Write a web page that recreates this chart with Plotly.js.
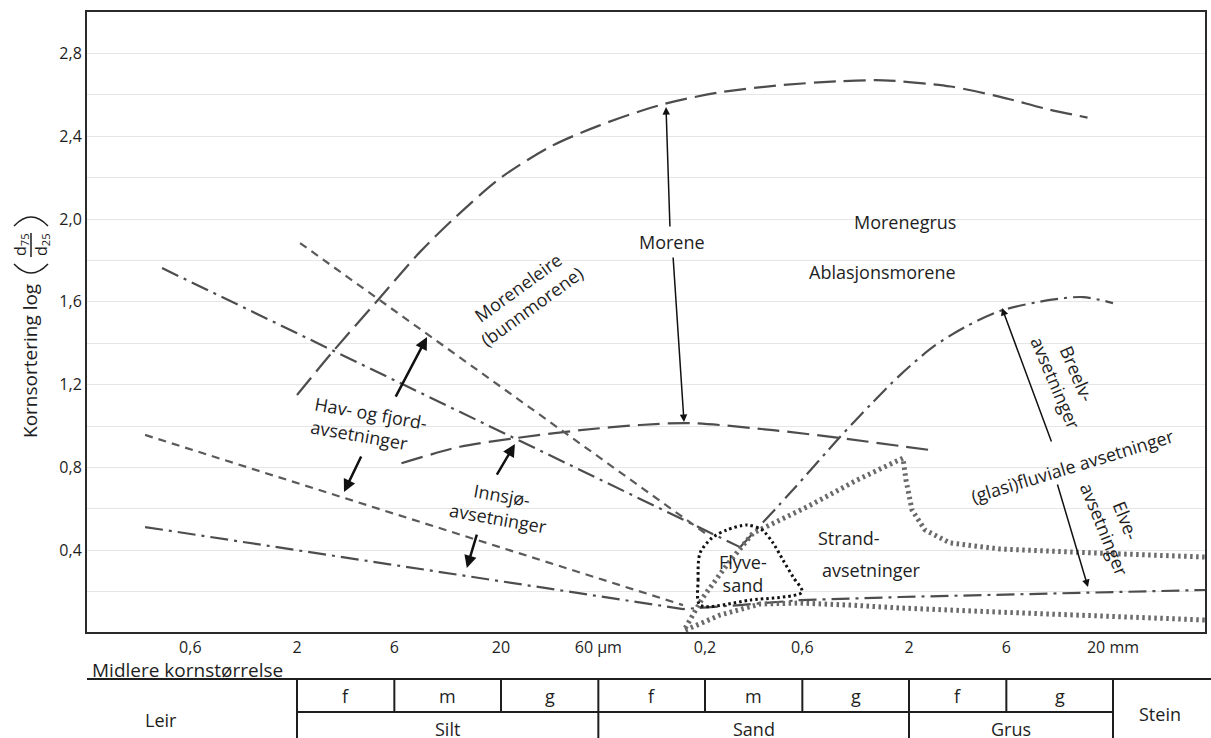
<!DOCTYPE html>
<html>
<head>
<meta charset="utf-8">
<script src="https://cdn.plot.ly/plotly-3.0.1.min.js"></script>
<style>
  html, body { margin: 0; padding: 0; background: #fff; }
  #chart { width: 1211px; height: 738px; }
</style>
</head>
<body>
<div id="chart"></div>
<script>
// Grain size (midlere kornstørrelse) in µm, sorting = log(d75/d25)

// Morene, upper boundary (long dash)
const moreneTopX = [2, 3, 5, 8, 12, 20, 35, 60, 120, 230, 450, 900, 1500, 3200, 5600, 9600, 15000];
const moreneTopY = [1.15, 1.36, 1.61, 1.84, 2.01, 2.20, 2.35, 2.45, 2.55, 2.61, 2.645, 2.665, 2.67, 2.64, 2.59, 2.53, 2.49];

// Morene, lower boundary (long dash)
const moreneLowX = [6.5, 12.6, 23, 49, 96, 169, 431, 918, 2535];
const moreneLowY = [0.82, 0.90, 0.94, 0.98, 1.005, 1.014, 0.98, 0.942, 0.884];

// Hav- og fjord, upper boundary down to the V (dash-dot)
const havTopX = [0.436, 297];
const havTopY = [1.763, 0.415];

// Breelv, upper boundary from the V (dash-dot)
const breelvX = [297, 522, 918, 1288, 1807, 2622, 3763, 5586, 9822, 14250, 20000];
const breelvY = [0.415, 0.676, 0.947, 1.101, 1.246, 1.382, 1.478, 1.556, 1.609, 1.623, 1.594];

// Moreneleire, lower boundary (short dash)
const leireLowX = [2.07, 200];
const leireLowY = [1.884, 0.483];

// Innsjø, upper boundary (short dash)
const innsjoTopX = [0.36, 156];
const innsjoTopY = [0.957, 0.135];

// Bottom boundary + Elve lower (dash-dot)
const bottomX = [0.36, 156, 297, 585, 1807, 56490];
const bottomY = [0.512, 0.116, 0.135, 0.159, 0.174, 0.208];

// Strand / Elve, upper boundary (thick dots)
const strandTopX = [160, 196, 256, 344, 632, 1112, 1869, 1933, 2069, 2395, 3177, 5586, 17270, 56490];
const strandTopY = [0.024, 0.174, 0.329, 0.483, 0.609, 0.739, 0.845, 0.739, 0.594, 0.498, 0.435, 0.406, 0.386, 0.367];

// Strand / Elve, lower boundary (thick dots)
const strandLowX = [160, 237, 372, 585, 1027, 1807, 5586, 17270, 56490];
const strandLowY = [0.014, 0.087, 0.140, 0.145, 0.135, 0.121, 0.101, 0.082, 0.063];

// Flyvesand loop (fine dots)
const flyveX = [189, 185, 189, 216, 256, 321, 381, 431, 482, 540, 598, 332, 189];
const flyveY = [0.135, 0.256, 0.386, 0.459, 0.498, 0.522, 0.498, 0.435, 0.353, 0.271, 0.198, 0.159, 0.135];

// axis ticks
const xTickVals = [0.6, 2, 6, 20, 60, 200, 600, 2000, 6000, 20000];
const xTickText = ['0,6', '2', '6', '20', '60 µm', '0,2', '0,6', '2', '6', '20 mm'];
const yTickVals = [0.4, 0.8, 1.2, 1.6, 2.0, 2.4, 2.8];
const yTickText = ['0,4', '0,8', '1,2', '1,6', '2,0', '2,4', '2,8'];
const yMinorVals = [0.2, 0.6, 1.0, 1.4, 1.8, 2.2, 2.6];

// labels in the plot
const labelText = ['Morene', 'Morenegrus', 'Ablasjonsmorene', 'Moreneleire<br>(bunnmorene)',
  'Hav- og fjord-<br>avsetninger', 'Innsjø-<br>avsetninger', 'Flyve-<br>sand', 'Strand-', 'avsetninger',
  'Breelv-<br>avsetninger', '(glasi)fluviale avsetninger', 'Elve-<br>avsetninger'];
const labelX = [138, 1910, 1475, 26.2, 4.51, 19.8, 307, 1016, 1317, 11900, 12590, 20460];
const labelY = [1.889, 1.986, 1.744, 1.628, 1.005, 0.609, 0.290, 0.459, 0.304, 1.232, 0.807, 0.522];
const labelAngle = [0, 0, 0, -36, 10, 10, 0, 0, 0, 67, -17, 68];
const labelAlign = ['center', 'center', 'center', 'center', 'left', 'center', 'center', 'center', 'center', 'center', 'center', 'center'];

// arrows (tail -> head)
const arrowTailX = [134.7, 139.4, 6.04, 4.16, 18.9, 15.3, 10040, 10630];
const arrowTailY = [1.957, 1.821, 1.135, 0.860, 0.758, 0.483, 0.918, 0.725];
const arrowHeadX = [128.8, 157.8, 8.68, 3.40, 23.4, 13.6, 5713, 15080];
const arrowHeadY = [2.541, 1.019, 1.430, 0.681, 0.913, 0.314, 1.570, 0.222];
const arrowWidth = [1.5, 1.5, 2.5, 2.5, 2.5, 2.5, 1.5, 1.5];

// grain size table below the axis
const classBounds = [2, 6, 20, 60, 200, 600, 2000, 6000, 20000];
const mainBounds = [2, 60, 2000, 20000];
const subClasses = ['f', 'm', 'g', 'f', 'm', 'g', 'f', 'g'];
const mainClasses = ['Silt', 'Sand', 'Grus'];

const FONT = 'Open Sans, sans-serif';
const INK = '#1e1e1e';
const W = 1211, H = 738, ML = 87, MR = 6, MT = 12, MB = 106;
const plotW = W - ML - MR, plotH = H - MT - MB;

// pixel position -> paper coordinates (for things outside the plot area)
function px(x) { return (x - ML) / plotW; }
function py(y) { return (H - MB - y) / plotH; }
function lg(v) { return Math.log10(v); }

function lineTrace(x, y, dash, width, color, shape) {
    return {
        x: x, y: y, type: 'scatter', mode: 'lines',
        line: { dash: dash, width: width, color: color, shape: shape || 'linear', smoothing: 0.8 },
        hoverinfo: 'skip', showlegend: false
    };
}

// text placed in pixel terms outside the plot
function paperText(text, x, y, size, extra) {
    return Object.assign({
        xref: 'paper', yref: 'paper', x: px(x), y: py(y), text: text,
        xanchor: 'center', yanchor: 'middle', showarrow: false,
        font: { family: FONT, size: size, color: INK }
    }, extra || {});
}

const longDash = '22px,8px';
const dashDot = '18px,6px,3px,6px';
const shortDash = '8px,6px';
const thickDot = '2.5px,3.5px';
const fineDot = '2.5px,3px';
const lineGray = '#4d4d4d';

const data = [
    lineTrace(moreneTopX, moreneTopY, longDash, 2.2, lineGray, 'spline'),
    lineTrace(moreneLowX, moreneLowY, longDash, 2.2, lineGray, 'spline'),
    lineTrace(havTopX, havTopY, dashDot, 2.2, lineGray),
    lineTrace(breelvX, breelvY, dashDot, 2.2, lineGray, 'spline'),
    lineTrace(leireLowX, leireLowY, shortDash, 2.2, '#5a5a5a'),
    lineTrace(innsjoTopX, innsjoTopY, shortDash, 2.2, '#5a5a5a'),
    lineTrace(bottomX, bottomY, dashDot, 2.2, lineGray),
    lineTrace(strandTopX, strandTopY, thickDot, 5, '#6a6a6a'),
    lineTrace(strandLowX, strandLowY, thickDot, 5, '#6a6a6a'),
    lineTrace(flyveX, flyveY, fineDot, 3, '#111', 'spline')
];

const annotations = [];

labelText.forEach((t, i) => {
    annotations.push({
        xref: 'x', yref: 'y', x: lg(labelX[i]), y: labelY[i], text: t,
        xanchor: 'center', yanchor: 'middle',
        showarrow: false, textangle: labelAngle[i], align: labelAlign[i],
        font: { family: FONT, size: 18, color: INK }
    });
});

arrowTailX.forEach((t, i) => {
    annotations.push({
        xref: 'x', yref: 'y', axref: 'x', ayref: 'y',
        x: lg(arrowHeadX[i]), y: arrowHeadY[i], ax: lg(t), ay: arrowTailY[i],
        text: '', showarrow: true, arrowhead: 2, arrowsize: 1,
        arrowwidth: arrowWidth[i], arrowcolor: '#111', standoff: 0
    });
});

// y axis title with the d75/d25 fraction
annotations.push(paperText('Kornsortering log', 30, 361, 19, { textangle: -90 }));
annotations.push(paperText('d<sub>75</sub><br>d<sub>25</sub>', 31, 245, 16, { textangle: -90 }));

// text under the axis
annotations.push(paperText('Midlere kornstørrelse', 90, 670, 19, { xanchor: 'left' }));
subClasses.forEach((t, i) => {
    annotations.push({
        xref: 'x', yref: 'paper', x: (lg(classBounds[i]) + lg(classBounds[i + 1])) / 2, y: py(696),
        xanchor: 'center', yanchor: 'middle',
        text: t, showarrow: false, font: { family: FONT, size: 18, color: INK }
    });
});
mainClasses.forEach((t, i) => {
    annotations.push({
        xref: 'x', yref: 'paper', x: (lg(mainBounds[i]) + lg(mainBounds[i + 1])) / 2, y: py(729),
        xanchor: 'center', yanchor: 'middle',
        text: t, showarrow: false, font: { family: FONT, size: 18, color: INK }
    });
});
annotations.push(paperText('Leir', 161, 720, 18));
annotations.push(paperText('Stein', 1160, 714, 18));

// table lines and the bracket of the y title
const shapes = [];
const tableLine = { color: '#1e1e1e', width: 2 };
shapes.push({ type: 'line', xref: 'paper', yref: 'paper', x0: 0, x1: px(W), y0: py(679), y1: py(679), line: tableLine });
shapes.push({ type: 'line', xref: 'x', yref: 'paper', x0: classBounds[0], x1: classBounds[classBounds.length - 1], y0: py(712), y1: py(712), line: tableLine });
classBounds.forEach(b => {
    const full = mainBounds.indexOf(b) >= 0;
    shapes.push({ type: 'line', xref: 'x', yref: 'paper', x0: b, x1: b, y0: py(679), y1: py(full ? H + 5 : 712), line: tableLine });
});
shapes.push({ type: 'line', xref: 'paper', yref: 'paper', x0: px(31), x1: px(31), y0: py(233), y1: py(257), line: { color: INK, width: 1.5 } });
shapes.push({ type: 'path', xref: 'paper', yref: 'paper', line: { color: INK, width: 1.5 },
    path: `M ${px(14)} ${py(226)} Q ${px(31)} ${py(208)} ${px(48)} ${py(226)}` });
shapes.push({ type: 'path', xref: 'paper', yref: 'paper', line: { color: INK, width: 1.5 },
    path: `M ${px(14)} ${py(264)} Q ${px(31)} ${py(282)} ${px(48)} ${py(264)}` });

const layout = {
    width: W, height: H,
    margin: { l: ML, r: MR, t: MT, b: MB },
    paper_bgcolor: '#fff', plot_bgcolor: '#fff',
    showlegend: false,
    font: { family: FONT, color: INK },
    xaxis: {
        type: 'log', range: [-0.7284, 4.752],
        tickvals: xTickVals, ticktext: xTickText,
        showgrid: false, zeroline: false, ticks: '',
        showline: true, mirror: true, linecolor: '#2a2a2a', linewidth: 2,
        tickfont: { family: FONT, size: 16, color: INK }
    },
    yaxis: {
        range: [0.005, 3.0],
        tickvals: yTickVals, ticktext: yTickText,
        showgrid: true, gridcolor: '#e6e6e6', gridwidth: 1,
        minor: { tickvals: yMinorVals, showgrid: true, gridcolor: '#e6e6e6', gridwidth: 1, ticks: '' },
        zeroline: false, ticks: '',
        showline: true, mirror: true, linecolor: '#2a2a2a', linewidth: 2,
        tickfont: { family: FONT, size: 16, color: INK }
    },
    annotations: annotations,
    shapes: shapes
};

Plotly.newPlot('chart', data, layout, { displayModeBar: false, staticPlot: true });
</script>
</body>
</html>
